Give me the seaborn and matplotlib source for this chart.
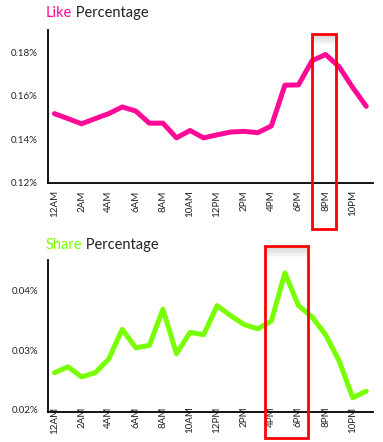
import matplotlib
matplotlib.use("Agg")
import matplotlib.pyplot as plt
import matplotlib.transforms as mtransforms
from matplotlib.patches import Rectangle
import seaborn as sns
import pandas as pd

# hour of day, 0 = 12AM
hours = list(range(24))
hour_labels = ["12AM", "2AM", "4AM", "6AM", "8AM", "10AM",
               "12PM", "2PM", "4PM", "6PM", "8PM", "10PM"]

like_pct = [0.1518, 0.1495, 0.1471, 0.1495, 0.1518, 0.1549, 0.1530, 0.1474,
            0.1474, 0.1406, 0.1440, 0.1406, 0.1420, 0.1433, 0.1436, 0.1430,
            0.1461, 0.1650, 0.1651, 0.1763, 0.1792, 0.1735, 0.1639, 0.1552]
share_pct = [0.0262, 0.0272, 0.0255, 0.0262, 0.0285, 0.0335, 0.0304, 0.0308,
             0.0369, 0.0294, 0.0330, 0.0326, 0.0375, 0.0358, 0.0343, 0.0336,
             0.0349, 0.0430, 0.0375, 0.0356, 0.0326, 0.0282, 0.0220, 0.0231]

like_ticks = [0.12, 0.14, 0.16, 0.18]
share_ticks = [0.02, 0.03, 0.04]

# highlighted hour spans
like_box = (19.0, 20.8)
share_box = (15.5, 18.7)

PINK = "#ff0a96"
GREEN = "#78ff00"

sns.set_style("white")
plt.rcParams["font.family"] = ["Lato", "DejaVu Sans"]

fig = plt.figure(figsize=(3.83, 4.42), dpi=100)
ax1 = fig.add_axes([0.1245, 0.585, 0.8495, 0.347])
ax2 = fig.add_axes([0.1245, 0.068, 0.8495, 0.344])

df = pd.DataFrame({"hour": hours, "like": like_pct, "share": share_pct})


def style_axis(ax, ticks, ylim, xpad):
    ax.set_xlim(-0.5, 23.5)
    ax.set_ylim(*ylim)
    ax.set_yticks(ticks)
    ax.set_yticklabels([f"{t:.2f}%" for t in ticks])
    ax.set_xticks(hours[::2])
    ax.set_xticklabels(hour_labels, rotation=90)
    ax.set_xlabel("")
    ax.set_ylabel("")
    for s in ["top", "right"]:
        ax.spines[s].set_visible(False)
    for s in ["left", "bottom"]:
        ax.spines[s].set_color("black")
        ax.spines[s].set_linewidth(1.3)
    ax.tick_params(axis="y", length=0, pad=7, labelsize=7, colors="#222222")
    ax.tick_params(axis="x", length=0, pad=xpad, labelsize=7, colors="#222222")


def highlight(ax, span, y0, y1):
    trans = mtransforms.blended_transform_factory(ax.transData, ax.transAxes)
    w = span[1] - span[0]
    # faint fading shadow just under the top edge
    steps = 8
    for i in range(steps):
        h = 0.07 * (i + 1) / steps
        ax.add_patch(Rectangle((span[0], y1 - h), w, h, transform=trans,
                               facecolor="#b0b0b0", alpha=0.07, edgecolor="none",
                               clip_on=False, zorder=4))
    ax.add_patch(Rectangle((span[0], y0), w, y1 - y0,
                           transform=trans, facecolor="none", edgecolor="#ff0000",
                           linewidth=2, clip_on=False, zorder=5))


def title(fig, y, word, color):
    t = fig.text(0.12, y, word, color=color, fontsize=10.5, va="baseline")
    plt.annotate(" Percentage", xy=(1, 0), xycoords=t, va="bottom",
                 fontsize=10.5, color="#222222")


sns.lineplot(data=df, x="hour", y="like", ax=ax1, color=PINK, linewidth=3.6)
style_axis(ax1, like_ticks, (0.1195, 0.1905), 5)
highlight(ax1, like_box, -0.298, 0.974)

sns.lineplot(data=df, x="hour", y="share", ax=ax2, color=GREEN, linewidth=3.6)
style_axis(ax2, share_ticks, (0.0196, 0.0452), -4)
highlight(ax2, share_box, -0.171, 1.089)

title(fig, 0.9615, "Like", PINK)
title(fig, 0.4367, "Share", GREEN)

fig.savefig("out.png", dpi=100)
